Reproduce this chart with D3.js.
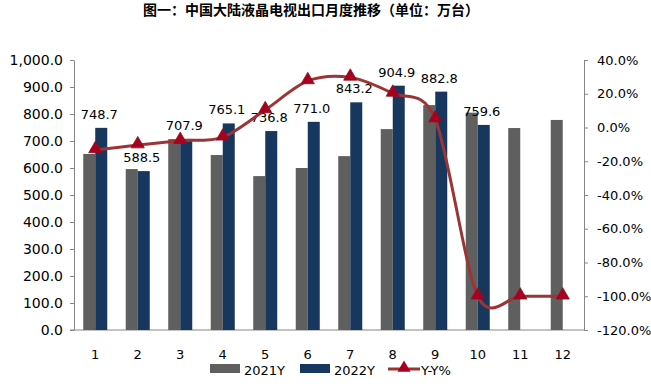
<html>
<head>
<meta charset="utf-8">
<script src="https://cdn.jsdelivr.net/npm/d3@7"></script>
<style>
    body { margin: 0; background: #fff; }
    text { font-family: "DejaVu Sans", sans-serif; fill: #000; }
    .title { font-family: "Noto Sans CJK SC", sans-serif; font-weight: bold; font-size: 14px; }
    .axis path, .axis line { stroke: #868686; }
    .axis text { font-size: 14px; }
    .raxis text { font-size: 13px; }
    .xaxis text { font-size: 13px; }
    .lbl { font-size: 13px; }
    .legend text { font-size: 13px; }
</style>
</head>
<body>
<script>
    // monthly exports, unit: 10k sets
    var months = ["1", "2", "3", "4", "5", "6", "7", "8", "9", "10", "11", "12"];
    var series = ["2021Y", "2022Y"];
    var v2021 = [652, 596, 707, 648, 570, 600, 644, 744, 833, 805, 748, 778];
    var v2022 = [748.7, 588.5, 707.9, 765.1, 736.8, 771.0, 843.2, 904.9, 882.8, 759.6, null, null];
    var yoy = [-13.3, -10.4, -7.8, -5.8, 10.4, 27.6, 29.7, 20.2, 5.0, -100, -100, -100];
    var leftTicks = [0, 100, 200, 300, 400, 500, 600, 700, 800, 900, 1000];
    var rightTicks = [-120, -100, -80, -60, -40, -20, 0, 20, 40];

    var width = 651, height = 388;
    var plotL = 74, plotR = 584, plotT = 60, plotB = 330;
    var colors = {"2021Y": "#5f5f5f", "2022Y": "#17375e"};
    var lineColor = "#9b3535", markColor = "#a8001e";

    var svg = d3.select("body").append("svg")
        .attr("width", width)
        .attr("height", height);

    svg.append("text")
        .attr("class", "title")
        .attr("x", 311)
        .attr("y", 15)
        .attr("text-anchor", "middle")
        .text("图一：中国大陆液晶电视出口月度推移（单位：万台）");

    var x0 = d3.scaleBand().domain(months).range([plotL, plotR]);
    var x1 = d3.scaleBand().domain(series).range([0, x0.bandwidth()]).paddingOuter(0.77);
    var y = d3.scaleLinear().domain([0, 1000]).range([plotB, plotT]);
    var y2 = d3.scaleLinear().domain([-120, 40]).range([plotB, plotT]);

    var fmt = d3.format(",.1f");

    // axes
    svg.append("g")
        .attr("class", "axis")
        .attr("transform", "translate(" + plotL + ",0)")
        .call(d3.axisLeft(y).tickValues(leftTicks).tickFormat(fmt).tickSize(4).tickPadding(7).tickSizeOuter(0));

    svg.append("g")
        .attr("class", "axis raxis")
        .attr("transform", "translate(" + plotR + ",0)")
        .call(d3.axisRight(y2).tickValues(rightTicks).tickFormat(function (d) { return d.toFixed(1) + "%"; })
            .tickSize(4).tickPadding(9).tickSizeOuter(0));

    var xa = svg.append("g")
        .attr("class", "axis xaxis")
        .attr("transform", "translate(0," + plotB + ")")
        .call(d3.axisBottom(x0).tickSize(0).tickPadding(20));
    xa.select(".domain").attr("d", "M" + (plotL - 4) + ",0H" + plotR);

    // bars
    var rows = months.map(function (m, i) {
        return {month: m, vals: [{s: "2021Y", v: v2021[i]}, {s: "2022Y", v: v2022[i]}]};
    });

    var grp = svg.append("g").selectAll("g")
        .data(rows)
        .enter().append("g")
        .attr("transform", function (d) { return "translate(" + x0(d.month) + ",0)"; });

    grp.selectAll("rect")
        .data(function (d) { return d.vals.filter(function (e) { return e.v != null; }); })
        .enter().append("rect")
        .attr("x", function (d) { return x1(d.s); })
        .attr("width", x1.bandwidth())
        .attr("y", function (d) { return y(d.v); })
        .attr("height", function (d) { return plotB - y(d.v); })
        .attr("fill", function (d) { return colors[d.s]; });

    // labels for 2022
    svg.append("g").selectAll("text")
        .data(months.filter(function (m, i) { return v2022[i] != null; }))
        .enter().append("text")
        .attr("class", "lbl")
        .attr("text-anchor", "middle")
        .attr("x", function (m) { return x0(m) + x1("2022Y") + x1.bandwidth() / 2 - 2; })
        .attr("y", function (m) { return y(v2022[months.indexOf(m)]) - 9; })
        .text(function (m) { return v2022[months.indexOf(m)].toFixed(1); });

    // yoy line
    var cx = function (i) { return x0(months[i]) + x0.bandwidth() / 2; };
    var line = d3.line()
        .x(function (d, i) { return cx(i); })
        .y(function (d) { return y2(d); })
        .curve(d3.curveCardinal.tension(0.1));

    svg.append("path")
        .datum(yoy)
        .attr("d", line)
        .attr("fill", "none")
        .attr("stroke", lineColor)
        .attr("stroke-width", 3);

    var tri = d3.symbol().type(d3.symbolTriangle).size(75);
    svg.append("g").selectAll("path")
        .data(yoy)
        .enter().append("path")
        .attr("d", tri)
        .attr("transform", function (d, i) { return "translate(" + cx(i) + "," + (y2(d) - 1) + ")"; })
        .attr("fill", markColor)
        .attr("stroke", "#8c1020")
        .attr("stroke-width", 0.8);

    // legend
    var lg = svg.append("g").attr("class", "legend");
    lg.append("rect").attr("x", 210).attr("y", 364).attr("width", 30).attr("height", 9).attr("fill", colors["2021Y"]);
    lg.append("text").attr("x", 244).attr("y", 375).text("2021Y");
    lg.append("rect").attr("x", 300).attr("y", 364).attr("width", 30).attr("height", 9).attr("fill", colors["2022Y"]);
    lg.append("text").attr("x", 334).attr("y", 375).text("2022Y");
    lg.append("line").attr("x1", 388).attr("x2", 420).attr("y1", 369).attr("y2", 369)
        .attr("stroke", lineColor).attr("stroke-width", 3);
    lg.append("path").attr("d", tri).attr("transform", "translate(404,368)").attr("fill", markColor);
    lg.append("text").attr("x", 421).attr("y", 375).text("Y-Y%");
</script>
</body>
</html>
